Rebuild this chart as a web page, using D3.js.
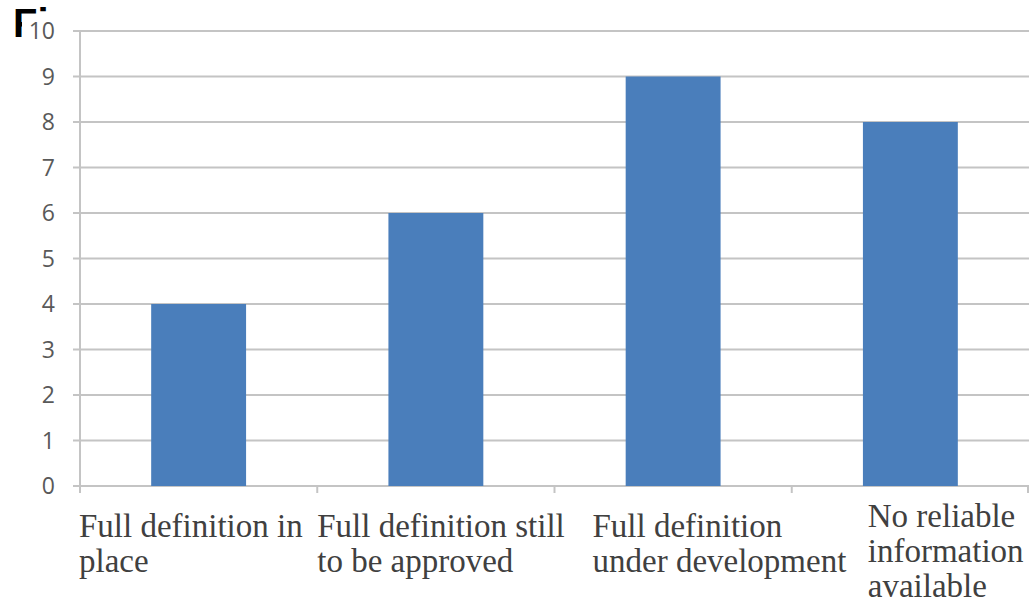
<!DOCTYPE html>
<html><head><meta charset="utf-8">
<script src="https://cdn.jsdelivr.net/npm/d3@7/dist/d3.min.js"></script>
<style>html,body{margin:0;padding:0;background:#fff;}svg{display:block;}</style>
</head><body>
<svg id="c" width="1029" height="610"></svg>
<script>
const categories = ["Full definition in place","Full definition still to be approved","Full definition under development","No reliable information available"];
const values = [4, 6, 9, 8];
const labelLines = [["Full definition in","place"],["Full definition still","to be approved"],["Full definition","under development"],["No reliable","information","available"]];
const yTicks = [0,1,2,3,4,5,6,7,8,9,10];

// layout constants
const labelDx = [-1, 0, 38, 76];
const svg = d3.select("#c");
const pLeft = 80, pRight = 1029, pTop = 31, pBottom = 486;
const x = d3.scaleBand().domain(categories).range([pLeft, pRight]).paddingInner(0.6).paddingOuter(0.3);
const xb = d3.scaleBand().domain(categories).range([pLeft, pRight]);
const y = d3.scaleLinear().domain([0, 10]).range([pBottom, pTop]);

// partial title
svg.append("text").attr("x", 13).attr("y", 37).attr("font-family", "Liberation Sans, Arial, sans-serif")
  .attr("font-weight", "bold").attr("font-size", 40).attr("fill", "#000").text("Fig");
svg.append("rect").attr("x", 22).attr("y", 14).attr("width", 60).attr("height", 40).attr("fill", "#fff");

// gridlines
svg.append("g").selectAll("line").data(yTicks).join("line")
  .attr("x1", pLeft - 7).attr("x2", pRight).attr("y1", d => y(d)).attr("y2", d => y(d))
  .attr("stroke", "#c4c4c4").attr("stroke-width", 2);
// y axis line
svg.append("line").attr("x1", pLeft).attr("x2", pLeft).attr("y1", pTop).attr("y2", pBottom + 7)
  .attr("stroke", "#c4c4c4").attr("stroke-width", 2);
// x ticks
const edges = categories.map(c => xb(c) + xb.bandwidth());
svg.append("g").selectAll("line").data(edges).join("line")
  .attr("x1", d => Math.min(d, pRight - 1)).attr("x2", d => Math.min(d, pRight - 1))
  .attr("y1", pBottom).attr("y2", pBottom + 7).attr("stroke", "#c4c4c4").attr("stroke-width", 2);

// y tick labels
svg.append("g").selectAll("text").data(yTicks).join("text")
  .attr("x", 55).attr("y", d => y(d)).attr("dy", "0.35em").attr("text-anchor", "end")
  .attr("font-family", "Open Sans, Liberation Sans, sans-serif").attr("font-size", 23)
  .attr("fill", "#595959").text(d => d);

// bars
svg.append("g").selectAll("rect").data(values).join("rect")
  .attr("x", (d, i) => x(categories[i])).attr("width", x.bandwidth())
  .attr("y", d => y(d)).attr("height", d => y(0) - y(d)).attr("fill", "#4a7ebb");

// x labels
const lg = svg.append("g").attr("font-family", "Liberation Serif, Times New Roman, serif")
  .attr("font-size", 33).attr("fill", "#404040");
labelLines.forEach((lines, i) => {
  const t = lg.append("text").attr("x", xb(categories[i]) + labelDx[i])
    .attr("y", 537 - (lines.length - 2) * 10);
  lines.forEach((l, j) => t.append("tspan").attr("x", xb(categories[i]) + labelDx[i]).attr("dy", j === 0 ? 0 : 35).text(l));
});
</script>
</body></html>
